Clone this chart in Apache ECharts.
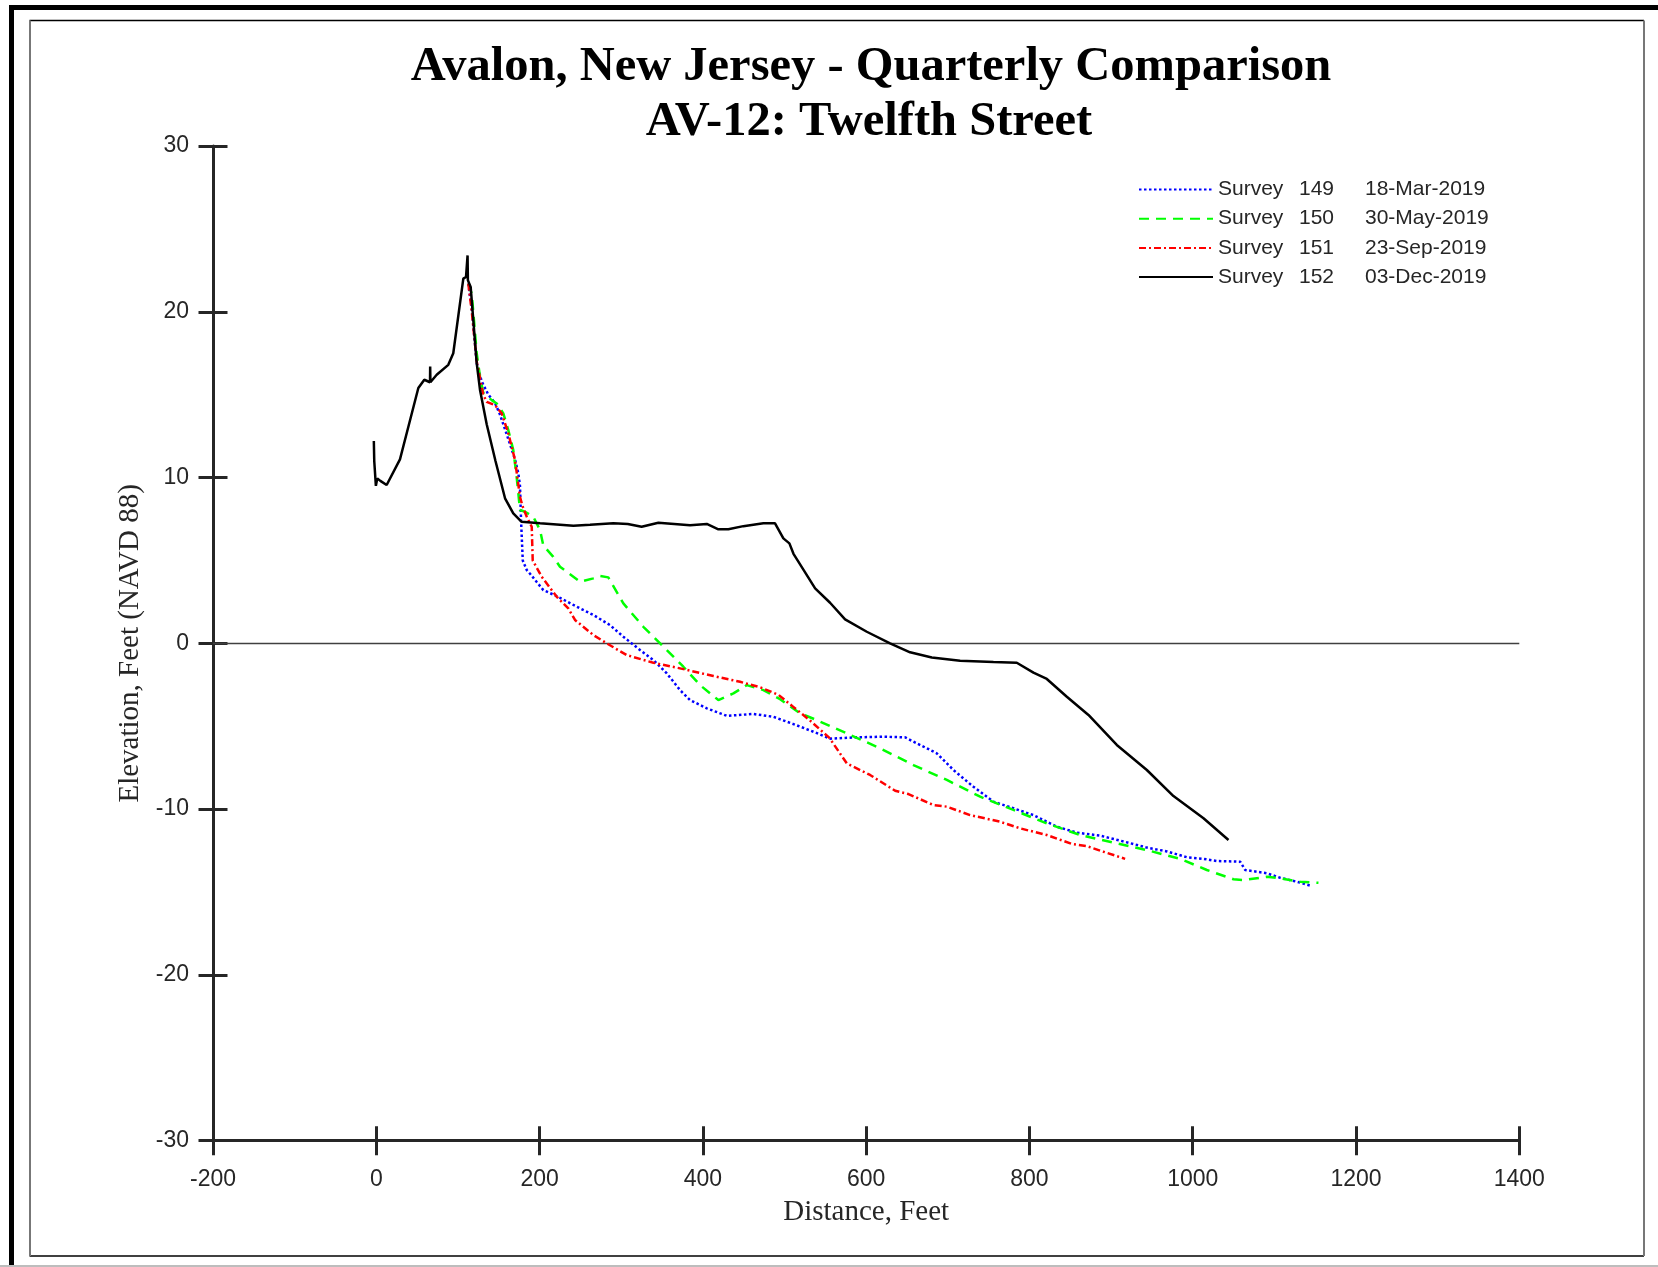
<!DOCTYPE html>
<html>
<head>
<meta charset="utf-8">
<script src="https://cdn.jsdelivr.net/npm/echarts@6/dist/echarts.min.js"></script>
<style>
html,body{margin:0;padding:0;background:#fff;}
#chart{width:1658px;height:1267px;}
</style>
</head>
<body>
<div id="chart"></div>
<script>
// ---- Data ----
const titleLines = ['Avalon, New Jersey - Quarterly Comparison', 'AV-12: Twelfth Street'];
const xAxisTitle = 'Distance, Feet';
const yAxisTitle = 'Elevation, Feet (NAVD 88)';
const xTicks = { min: -200, max: 1400, step: 200 };
const yTicks = { min: -30, max: 30, step: 10 };

const surveyNumbers = ['149', '150', '151', '152'];
const surveyDates = ['18-Mar-2019', '30-May-2019', '23-Sep-2019', '03-Dec-2019'];

// Survey 149 (18-Mar-2019) [distance, elevation]
const survey149 = [
  [112.7, 21.7], [117, 20.2], [123, 16.9], [129.1, 15.8], [137.2, 15.0], [145.4, 14.5], [151.5, 13.8],
  [159.8, 12.6], [169.9, 11.1], [174, 10.25], [176, 9.5], [177.3, 7.44], [179.4, 5.0], [184.3, 4.42],
  [188.3, 4.2], [196.5, 3.7], [204.6, 3.21], [221, 2.85], [245.5, 2.21], [265.9, 1.71], [286.3, 1.10],
  [302.6, 0.40], [323, -0.40], [339.4, -1.01], [355.8, -1.81], [372.1, -2.82], [384.3, -3.42],
  [404.8, -3.92], [429.3, -4.37], [461.9, -4.26], [486.4, -4.43], [510.9, -4.87], [535.4, -5.33],
  [555.8, -5.75], [588.5, -5.67], [621.1, -5.63], [647.7, -5.67], [662, -6.03], [686.5, -6.63],
  [706.9, -7.64], [731.4, -8.65], [755.9, -9.55], [780.4, -9.95], [804.9, -10.36], [833.6, -11.06],
  [858.1, -11.42], [886.7, -11.6], [915.2, -11.95], [943.8, -12.32], [968.3, -12.55], [992.8, -12.9],
  [1013.2, -13.0], [1029.6, -13.13], [1058.1, -13.17], [1064.3, -13.67], [1090.8, -13.87],
  [1107.1, -14.14], [1127.6, -14.38], [1146, -14.64]
];

// Survey 150 (30-May-2019)
const survey150 = [
  [112.7, 21.7], [116.9, 21.1], [123, 17.5], [127, 16.1], [131.1, 15.1], [141.4, 14.67], [147.5, 14.47],
  [155.6, 13.87], [161.7, 12.86], [167.8, 11.66], [172, 10.0], [174, 9.05], [176, 8.04], [182.2, 7.94],
  [192.3, 7.64], [200.6, 6.83], [204.6, 5.9], [216.8, 5.22], [225, 4.62], [241.4, 4.02], [249.6, 3.72],
  [265.9, 3.92], [274.1, 4.06], [284.2, 3.98], [302.6, 2.41], [327.1, 1.0], [351.6, -0.2],
  [376.1, -1.41], [396.6, -2.52], [419, -3.42], [437.4, -3.02], [453.8, -2.52], [474.1, -2.82],
  [494.6, -3.37], [519.1, -4.22], [539.5, -4.63], [576.3, -5.43], [617.1, -6.33], [657.9, -7.34],
  [698.8, -8.24], [739.6, -9.25], [780.4, -10.05], [821.3, -10.86], [862.1, -11.56], [902.9, -12.02],
  [943.8, -12.47], [984.6, -13.0], [1017.3, -13.67], [1049.9, -14.23], [1062.2, -14.28],
  [1090.8, -14.08], [1107.1, -14.17], [1131.6, -14.38], [1154, -14.44]
];

// Survey 151 (23-Sep-2019)
const survey151 = [
  [112.7, 21.7], [117, 20.0], [123, 17.0], [125, 16.5], [131, 15.0], [135.2, 14.57], [145.4, 14.37],
  [153.6, 13.87], [161.7, 12.67], [169.9, 11.06], [176, 8.84], [179.4, 8.24], [184.3, 7.64],
  [190.4, 7.03], [191.6, 5.0], [202.6, 4.02], [221, 2.81], [235.2, 2.11], [243.4, 1.41], [265.9, 0.5],
  [282.3, 0], [306.8, -0.71], [339.4, -1.17], [372.1, -1.51], [412.9, -1.97], [445.6, -2.32],
  [470.1, -2.65], [492.5, -3.1], [510, -3.8], [530, -4.6], [555, -5.7], [576.3, -7.24], [604.8, -7.94],
  [635.5, -8.89], [651.8, -9.09], [682.4, -9.75], [698.8, -9.85], [727.3, -10.36], [764.1, -10.76],
  [788.6, -11.16], [821.3, -11.56], [852, -12.1], [870.3, -12.23], [890.7, -12.57], [917.2, -13.0]
];

// Survey 152 (03-Dec-2019)
const survey152 = [
  [-3, 12.2], [-2.5, 11.0], [-0.5, 9.5], [1.2, 9.95], [5, 9.8], [12.7, 9.55], [29, 11.1], [40, 13.2],
  [51.5, 15.4], [58.8, 15.9], [65.8, 15.75], [66, 16.7], [66.3, 15.75], [74, 16.2], [88.2, 16.8],
  [94.3, 17.5], [106.6, 22.0], [109.9, 22.1], [111.5, 22.1], [111.8, 23.4], [112.2, 21.9], [115.6, 21.5],
  [123, 16.9], [127, 15.3], [135.3, 13.2], [146, 11.0], [157.7, 8.75], [167.8, 7.84], [178, 7.33],
  [200.6, 7.24], [241.4, 7.1], [261.8, 7.15], [290.3, 7.24], [308, 7.2], [325, 7.03], [345.5, 7.27],
  [384.3, 7.12], [404.8, 7.2], [419, 6.88], [431.2, 6.88], [449.6, 7.07], [474.1, 7.24], [488.4, 7.24],
  [498.6, 6.33], [506, 6.03], [511, 5.4], [521.2, 4.6], [537.5, 3.32], [555.8, 2.45], [574.2, 1.45],
  [600.8, 0.7], [629.3, 0], [653.8, -0.54], [680.4, -0.85], [715.1, -1.05], [755.9, -1.13],
  [784.5, -1.17], [804.9, -1.77], [821.3, -2.15], [845.8, -3.22], [872.3, -4.32], [907, -6.13],
  [943.8, -7.64], [976.4, -9.21], [1013.2, -10.55], [1043.8, -11.86]
];

// ---- Chart ----
const seriesData = [survey149, survey150, survey151, survey152];
const seriesColors = ['#0000ff', '#00ff00', '#ff0000', '#000000'];
const seriesDash = [[2.5, 2.5], [10, 7], [7, 3, 2, 3], 'solid'];
const names = surveyNumbers.map((n, i) => 'Survey ' + n + ' ' + surveyDates[i]);

const AX = '#262626';
const sans = "'Liberation Sans', Arial, sans-serif";
const serif = "'Liberation Serif', 'Times New Roman', serif";

const series = seriesData.map((d, i) => {
  const s = {
    name: names[i],
    type: 'line',
    data: d,
    showSymbol: false,
    symbol: 'none',
    smooth: false,
    silent: true,
    z: 3 + i,
    lineStyle: { color: seriesColors[i], width: 2.5, type: seriesDash[i] },
    itemStyle: { color: seriesColors[i] }
  };
  if (i === 3) {
    s.markLine = {
      silent: true,
      symbol: ['none', 'none'],
      label: { show: false },
      lineStyle: { color: '#404040', width: 1.3, type: 'solid' },
      data: [{ yAxis: 0 }],
      z: 1
    };
  }
  return s;
});

const plainNum = v => String(v);

function xAxisBase(inside) {
  return {
    type: 'value', position: 'bottom',
    min: xTicks.min, max: xTicks.max, interval: xTicks.step,
    splitLine: { show: false },
    axisLine: { show: !inside, onZero: false, lineStyle: { color: AX, width: 3 } },
    axisTick: { show: true, inside: inside, length: 14.5, lineStyle: { color: AX, width: 3 } },
    axisLabel: inside ? { show: false } : { margin: 27, fontSize: 23, color: AX, fontFamily: sans, formatter: plainNum },
    name: inside ? '' : xAxisTitle,
    nameLocation: 'middle', nameGap: 57,
    nameTextStyle: { fontFamily: serif, fontSize: 29, color: AX }
  };
}
function yAxisBase(inside) {
  return {
    type: 'value', position: 'left',
    min: yTicks.min, max: yTicks.max, interval: yTicks.step,
    splitLine: { show: false },
    axisLine: { show: !inside, onZero: false, lineStyle: { color: AX, width: 3 } },
    axisTick: { show: true, inside: inside, length: 14.5, lineStyle: { color: AX, width: 3 } },
    axisLabel: inside ? { show: false } : { margin: 24, fontSize: 23, color: AX, fontFamily: sans, formatter: plainNum },
    name: inside ? '' : yAxisTitle,
    nameLocation: 'middle', nameGap: 65.5,
    nameTextStyle: { fontFamily: serif, fontSize: 29, color: AX }
  };
}

const option = {
  animation: false,
  backgroundColor: '#ffffff',
  legend: {
    orient: 'vertical',
    left: 1138, top: 179,
    itemWidth: 74, itemHeight: 22, itemGap: 8.2,
    padding: 0,
    selectedMode: false,
    data: names,
    itemStyle: { opacity: 0 },
    formatter: function (name) {
      const i = names.indexOf(name);
      return '{a|Survey}{b|' + surveyNumbers[i] + '}{c|' + surveyDates[i] + '}';
    },
    textStyle: {
      fontFamily: sans, fontSize: 21, color: AX,
      rich: {
        a: { width: 81, fontFamily: sans, fontSize: 21, color: AX, lineHeight: 22 },
        b: { width: 66, fontFamily: sans, fontSize: 21, color: AX, lineHeight: 22 },
        c: { fontFamily: sans, fontSize: 21, color: AX, lineHeight: 22 }
      }
    }
  },
  grid: { left: 213, right: 138.7, top: 146, bottom: 126.3, containLabel: false },
  xAxis: [xAxisBase(false), xAxisBase(true)],
  yAxis: [yAxisBase(false), yAxisBase(true)],
  series: series,
  graphic: [
    // title
    { type: 'text', x: 871, y: 67, z: 10, silent: true,
      style: { text: titleLines[0], fill: '#000', font: 'bold 48.5px ' + serif, align: 'center', verticalAlign: 'middle' } },
    { type: 'text', x: 869, y: 122.5, z: 10, silent: true,
      style: { text: titleLines[1], fill: '#000', font: 'bold 48.5px ' + serif, align: 'center', verticalAlign: 'middle' } },
    // outer frame
    { type: 'rect', z: -10, shape: { x: 9, y: 5, width: 1649, height: 5 }, style: { fill: '#000' }, silent: true },
    { type: 'rect', z: -10, shape: { x: 9, y: 5, width: 5, height: 1262 }, style: { fill: '#000' }, silent: true },
    { type: 'rect', z: -10, shape: { x: 0, y: 1265, width: 1658, height: 2 }, style: { fill: '#bdbdbd' }, silent: true },
    // inner frame
    { type: 'line', z: -10, shape: { x1: 29.5, y1: 20.5, x2: 1644, y2: 20.5 }, style: { stroke: '#000', lineWidth: 1.5 }, silent: true },
    { type: 'line', z: -10, shape: { x1: 29.5, y1: 1256, x2: 1644, y2: 1256 }, style: { stroke: '#000', lineWidth: 1.5 }, silent: true },
    { type: 'line', z: -10, shape: { x1: 30, y1: 20.5, x2: 30, y2: 1256 }, style: { stroke: '#777', lineWidth: 2 }, silent: true },
    { type: 'line', z: -10, shape: { x1: 1644, y1: 20.5, x2: 1644, y2: 1256 }, style: { stroke: '#777', lineWidth: 2 }, silent: true }
  ]
};

const chart = echarts.init(document.getElementById('chart'), null, { renderer: 'canvas' });
chart.setOption(option);
</script>
</body>
</html>
